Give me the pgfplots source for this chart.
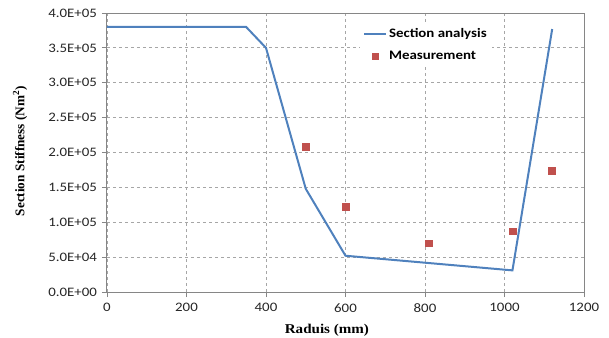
\documentclass[border=0pt]{standalone}
\usepackage{pgfplots}
\pgfplotsset{compat=1.18}
\usepackage{fontspec}
\setmainfont{Carlito}[FakeStretch=1.15]
\newfontfamily\labelfont{Liberation Serif}[FakeStretch=1.12]
\newfontfamily\ylabelfont{Liberation Serif}
\definecolor{lineblue}{RGB}{79,129,189}
\definecolor{markred}{RGB}{192,80,77}
\definecolor{gridgray}{RGB}{166,166,166}
\definecolor{axgray}{RGB}{134,134,134}
\pgfplotsset{
  mylineleg/.style={legend image code/.code={\draw[##1] (0bp,0bp) -- (22bp,0bp);}},
  mymarkleg/.style={legend image code/.code={\draw[##1] plot coordinates {(11bp,0bp)};}},
}
\begin{document}
\begin{tikzpicture}
\begin{axis}[
  scale only axis,
  width=477bp, height=279bp,
  xmin=0, xmax=1200, ymin=0, ymax=400000,
  xtick={0,200,...,1200},
  ytick={0,50000,100000,150000,200000,250000,300000,350000,400000},
  yticklabels={0.0E+00,5.0E+04,1.0E+05,1.5E+05,2.0E+05,2.5E+05,3.0E+05,3.5E+05,4.0E+05},
  scaled y ticks=false,
  /pgf/number format/assume math mode=true,
  /pgf/number format/1000 sep={},
  tick pos=left,
  tick align=outside,
  major tick length=5bp,
  tick style={axgray, line width=0.9bp},
  axis line style={axgray, line width=1bp},
  grid=major,
  major grid style={gridgray, dash pattern=on 3bp off 3bp, line width=0.8bp},
  ticklabel style={font=\fontsize{13}{15}\selectfont, text=black!85},
  yticklabel style={xshift=-1.5bp},
  xticklabel style={yshift=-3bp},
  xlabel={\labelfont\bfseries Raduis (mm)},
  ylabel={\ylabelfont\bfseries Section Stiffness (Nm\textsuperscript{2})},
  xlabel style={at={(axis description cs:0.461,0)}, anchor=center, yshift=-38bp, font=\fontsize{13.5}{15}\selectfont},
  ylabel style={at={([xshift=-87bp]axis description cs:0,0.505)}, anchor=center, font=\fontsize{13.3}{15}\selectfont},
  legend style={at={(0.53,0.96)}, anchor=north west, draw=none, fill=white,
    font=\fontsize{13}{15}\selectfont\bfseries, row sep=8.5bp, inner xsep=3bp, inner ysep=2bp},
  legend cell align=left,
]
\addplot[lineblue, line width=2bp, mark=none, mylineleg]
  coordinates {(0,380000) (350,380000) (400,350000) (500,148000) (600,52000) (1020,31000) (1120,377000)};
\addlegendentry{Section analysis}
\addplot[only marks, mark=square*, mark size=3.3bp, color=markred, mymarkleg]
  coordinates {(500,208000) (600,122500) (810,70000) (1020,87000) (1118,174000)};
\addlegendentry{Measurement}
\end{axis}
\pgfresetboundingbox
\path[use as bounding box] (-107bp,-46bp) rectangle (502bp,292bp);
\end{tikzpicture}
\end{document}
